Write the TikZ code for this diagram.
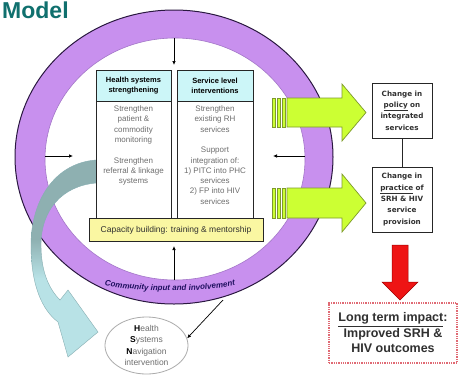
\documentclass[tikz,border=0pt]{standalone}
\usepackage{fontspec}
\setmainfont{Liberation Sans}
\newfontfamily\dejavu{DejaVu Sans}
\usetikzlibrary{arrows.meta,shapes.geometric,decorations.text}
\definecolor{ringc}{HTML}{C890EE}
\definecolor{ringdark}{HTML}{2A1840}
\definecolor{ringin}{HTML}{A478C8}
\definecolor{hdrc}{HTML}{CCF6F8}
\definecolor{capc}{HTML}{FAF7A2}
\definecolor{limec}{HTML}{CCFF33}
\definecolor{olivec}{HTML}{7E9A2C}
\definecolor{redc}{HTML}{EE1414}
\definecolor{reddark}{HTML}{A00000}
\definecolor{dotc}{HTML}{E06A74}
\definecolor{tealA}{HTML}{8EB0B1}
\definecolor{tealB}{HTML}{B8E2E6}
\definecolor{tealE}{HTML}{86AEB2}
\definecolor{titlec}{HTML}{10706E}
\definecolor{commc}{HTML}{201060}
\definecolor{bodyt}{HTML}{6E6E6E}
\definecolor{txtd}{HTML}{303030}
\pgfdeclareverticalshading{tealshade}{100bp}{color(0bp)=(tealB); color(45bp)=(tealB); color(55bp)=(tealA); color(100bp)=(tealA)}
\tikzset{
  hdr/.style={draw=black!85, line width=0.9pt, fill=hdrc, align=center, font=\bfseries\fontsize{7.5}{10}\selectfont, inner sep=0pt},
  colbody/.style={draw=black!85, line width=0.9pt, fill=white, inner sep=0pt},
  bodytxt/.style={align=center, text=bodyt, font=\fontsize{8}{10.3}\selectfont, inner sep=0pt, anchor=north},
  conn/.style={draw=black, line width=0.7pt, -{Latex[length=4pt,width=3.5pt]}},
  outbox/.style={draw=black!85, line width=1pt, fill=white, align=center, font=\dejavu\bfseries\fontsize{7.2}{11.3}\selectfont, text=txtd, inner sep=0pt},
  greenarr/.style={fill=limec, draw=olivec, line width=0.7pt, line join=miter},
  capbox/.style={draw=black!85, line width=1pt, fill=capc, font=\fontsize{8.5}{10}\selectfont, text=txtd, inner sep=0pt},
  hsnshape/.style={ellipse, draw=gray!65, line width=0.8pt, fill=white, inner sep=0pt},
  hsntxt/.style={align=center, font=\fontsize{8.5}{11.3}\selectfont, text=bodyt, inner sep=0pt},
  impact/.style={draw=dotc, densely dotted, line width=1.3pt, align=center, font=\bfseries\fontsize{12.5}{15.5}\selectfont, text=txtd, inner sep=0pt}
}
\begin{document}
\begin{tikzpicture}[x=1pt,y=-1pt]
\useasboundingbox (0,0) rectangle (458,376);
\clip (0,0) rectangle (458,376);
\fill[white] (0,0) rectangle (458,376);
% title
\node[anchor=base west, font=\bfseries\fontsize{23}{23}\selectfont, text=titlec, inner sep=0pt] (title) at (2,18.5) {Model};
% ring
\fill[ringc, even odd rule] (174,157) ellipse [x radius=159, y radius=147] (175,159) ellipse [x radius=130, y radius=121];
\draw[ringdark, line width=1pt] (174,157) ellipse [x radius=159, y radius=147];
\draw[ringin, line width=0.6pt] (175,159) ellipse [x radius=130, y radius=121];
\path[decorate, decoration={text along path, text align=center, text={|\fontsize{8}{9}\selectfont\bfseries\itshape\color{commc}|Community input and involvement}}] (93.6,283.5) arc[start angle=101, end angle=79, x radius=400, y radius=400];
% teal curved arrow
\shadedraw[shading=tealshade, draw=tealE, line width=0.4pt] (96,160) .. controls (55,163) and (31,200) .. (31,245) .. controls (31,285) and (42,310) .. (58,322) -- (68,357) -- (98,332) -- (68,290) -- (60,300) .. controls (47,287) and (41,268) .. (41,245) .. controls (41,210) and (62,186) .. (96,183) -- cycle;
% columns
\node[hdr, minimum width=75pt, minimum height=31pt] (h1) at (133.5,85.5) {Health systems\\strengthening};
\node[colbody, minimum width=75pt, minimum height=117pt] (b1) at (133.5,159.5) {};
\node[bodytxt] (t1) at (133.5,105.5) {Strengthen\\patient \&\\commodity\\monitoring\\[10.3pt]Strengthen\\referral \& linkage\\systems};
\node[hdr, minimum width=76pt, minimum height=31pt] (h2) at (215,85.5) {Service level\\interventions};
\node[colbody, minimum width=76pt, minimum height=117pt] (b2) at (215,159.5) {};
\node[bodytxt] (t2) at (215,105.5) {Strengthen\\existing RH\\services\\[10.3pt]Support\\integration of:\\1) PITC into PHC\\services\\2) FP into HIV\\services};
\node[capbox, minimum width=174pt, minimum height=23pt] (cap) at (176,230) {Capacity building: training \& mentorship};
% ring arrows
\coordinate (rt) at (174,38);
\coordinate (rtE) at (174,65);
\coordinate (rb) at (174,280);
\coordinate (rbE) at (174,246);
\coordinate (rl) at (45,156);
\coordinate (rlE) at (73,156);
\coordinate (rr) at (305,156);
\coordinate (rrE) at (273,156);
\draw[conn] (rt) -- (rtE);
\draw[conn] (rb) -- (rbE);
\draw[conn] (rl) -- (rlE);
\draw[conn] (rr) -- (rrE);
% green arrows
\foreach \xa in {272,277,282} {
  \draw[greenarr] (\xa,98) rectangle ++(3,29);
  \draw[greenarr] (\xa,188) rectangle ++(3,30);
}
\draw[greenarr] (287,98) -- (342,98) -- (342,84) -- (366,112.5) -- (342,141) -- (342,127) -- (287,127) -- cycle;
\draw[greenarr] (287,188) -- (342,188) -- (342,174) -- (366,203) -- (342,232) -- (342,218) -- (287,218) -- cycle;
% outcome boxes
\node[outbox, minimum width=60pt, minimum height=55pt] (pol) at (402,110.5) {Change in\\\underline{policy} on\\integrated\\services};
\node[outbox, minimum width=60pt, minimum height=65pt] (prac) at (402,199.5) {Change in\\\underline{practice} of\\SRH \& HIV\\service\\provision};
\draw[black!85, line width=1pt] (pol) -- (prac);
% red arrow
\draw[fill=redc, draw=reddark, line width=0.5pt, line join=miter] (392,245) -- (408,245) -- (408,282) -- (418,282) -- (400,300) -- (382,282) -- (392,282) -- cycle;
\node[impact, minimum width=128pt, minimum height=60pt] (lt) at (393,333) {\underline{Long term impact}:\\Improved SRH \&\\HIV outcomes};
% HSN
\node[hsnshape, minimum width=83pt, minimum height=57pt] (hsn) at (146.5,345.5) {};
\node[hsntxt] (hsnt) at (hsn.center) {\textcolor{black}{\textbf{H}}ealth\\\textcolor{black}{\textbf{S}}ystems\\\textcolor{black}{\textbf{N}}avigation\\intervention};
\coordinate (rc) at (223,300);
\draw[conn] (rc) -- (hsn.10);
\end{tikzpicture}
\end{document}
